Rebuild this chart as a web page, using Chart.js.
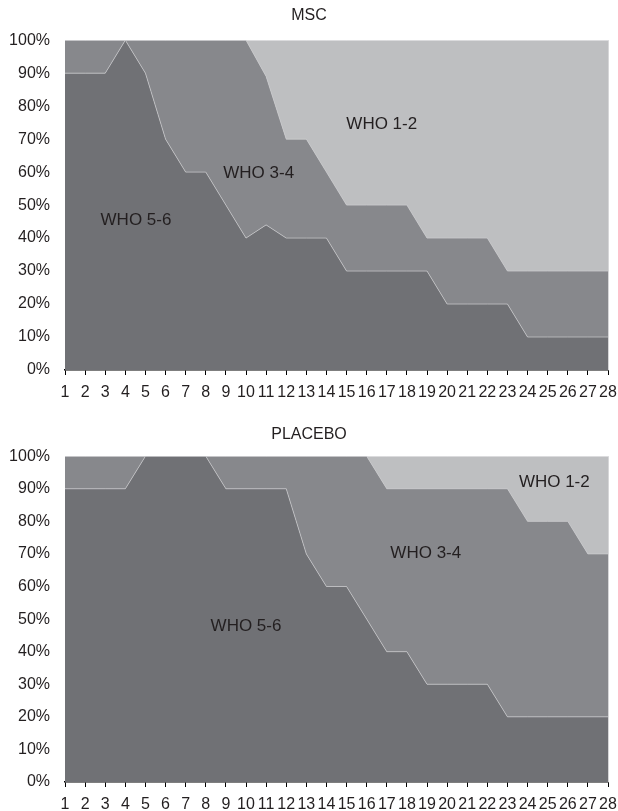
<!DOCTYPE html>
<html>
<head>
<meta charset="utf-8">
<script src="https://cdn.jsdelivr.net/npm/chart.js@4.4.1/dist/chart.umd.min.js"></script>
<style>
  body { margin: 0; background: #fff; }
  .grafico { position: relative; width: 618px; }
</style>
</head>
<body>
<div class="grafico" style="height:400px"><canvas id="graficoMsc"></canvas></div>
<div class="grafico" style="height:411px"><canvas id="graficoPlacebo"></canvas></div>
<script>
// dias de acompanhamento (eixo x)
const dias = ['1', '2', '3', '4', '5', '6', '7', '8', '9', '10', '11', '12', '13', '14',
  '15', '16', '17', '18', '19', '20', '21', '22', '23', '24', '25', '26', '27', '28'];

// MSC - % de pacientes em cada faixa WHO
const mscWho56 = [90, 90, 90, 100, 90, 70, 60, 60, 50, 40, 44, 40, 40, 40, 30, 30, 30, 30, 30, 20, 20, 20, 20, 10, 10, 10, 10, 10];
const mscWho34 = [10, 10, 10, 0, 10, 30, 40, 40, 50, 60, 45, 30, 30, 20, 20, 20, 20, 20, 10, 20, 20, 20, 10, 20, 20, 20, 20, 20];
const mscWho12 = [0, 0, 0, 0, 0, 0, 0, 0, 0, 0, 11, 30, 30, 40, 50, 50, 50, 50, 60, 60, 60, 60, 70, 70, 70, 70, 70, 70];

// PLACEBO
const placeboWho56 = [90, 90, 90, 90, 100, 100, 100, 100, 90, 90, 90, 90, 70, 60, 60, 50, 40, 40, 30, 30, 30, 30, 20, 20, 20, 20, 20, 20];
const placeboWho34 = [10, 10, 10, 10, 0, 0, 0, 0, 10, 10, 10, 10, 30, 40, 40, 50, 50, 50, 60, 60, 60, 60, 70, 60, 60, 60, 50, 50];
const placeboWho12 = [0, 0, 0, 0, 0, 0, 0, 0, 0, 0, 0, 0, 0, 0, 0, 0, 10, 10, 10, 10, 10, 10, 10, 20, 20, 20, 30, 30];

const nomesFaixas = ['WHO 5-6', 'WHO 3-4', 'WHO 1-2'];

const fonte = 'Liberation Sans, Arial, Helvetica, sans-serif';
const corTexto = '#231f20';
const coresFaixas = ['#707175', '#87888c', '#bebfc1'];

// rótulos escritos dentro das áreas (dia, %)
const rotulosMsc = [
  { texto: 'WHO 5-6', dia: 4.53, pct: 45.5 },
  { texto: 'WHO 3-4', dia: 10.63, pct: 59.6 },
  { texto: 'WHO 1-2', dia: 16.75, pct: 74.5 }
];
const rotulosPlacebo = [
  { texto: 'WHO 5-6', dia: 10.0, pct: 47.9 },
  { texto: 'WHO 3-4', dia: 18.94, pct: 70.1 },
  { texto: 'WHO 1-2', dia: 25.33, pct: 91.9 }
];

function pluginRotulos(rotulos) {
  return {
    id: 'rotulos',
    afterDatasetsDraw(chart) {
      const ctx = chart.ctx;
      const x = chart.scales.x;
      const y = chart.scales.y;
      const area = chart.chartArea;
      ctx.save();
      // borda clara do lado direito
      ctx.strokeStyle = '#d6d6d8';
      ctx.lineWidth = 1;
      ctx.beginPath();
      ctx.moveTo(area.right + 0.5, area.top);
      ctx.lineTo(area.right + 0.5, area.bottom);
      ctx.stroke();

      ctx.font = '17px ' + fonte;
      ctx.fillStyle = corTexto;
      ctx.textAlign = 'center';
      ctx.textBaseline = 'middle';
      rotulos.forEach(function (r) {
        ctx.fillText(r.texto, x.getPixelForValue(r.dia - 1), y.getPixelForValue(r.pct));
      });
      ctx.restore();
    }
  };
}

function areaWHO(id, titulo, faixas, rotulos, esp) {
  var ctx = document.getElementById(id).getContext('2d');
  var datasets = faixas.map(function (valores, i) {
    return {
      label: nomesFaixas[i],
      data: valores,
      backgroundColor: coresFaixas[i],
      fill: i === 0 ? 'origin' : '-1'
    };
  });
  return new Chart(ctx, {
    type: 'line',
    data: { labels: dias, datasets: datasets },
    options: {
      responsive: true,
      maintainAspectRatio: false,
      animation: false,
      elements: {
        point: { radius: 0 },
        line: { borderColor: 'rgba(205,205,208,0.7)', borderWidth: 1, tension: 0 }
      },
      layout: { padding: { left: 0, right: 0, top: 0, bottom: 0 } },
      plugins: {
        legend: { display: false },
        tooltip: { enabled: false },
        title: {
          display: true,
          text: titulo,
          color: corTexto,
          font: { family: fonte, size: 16, weight: 'normal' },
          padding: { top: esp.tituloCima, bottom: esp.tituloBaixo }
        }
      },
      scales: {
        x: {
          offset: false,
          grid: { display: true, drawOnChartArea: false, drawTicks: true, tickLength: 5, color: '#000', lineWidth: 1 },
          border: { display: true, color: '#000', width: 1.5 },
          ticks: { autoSkip: false, maxRotation: 0, padding: 8, color: corTexto, font: { family: fonte, size: 16 } },
          afterFit: function (escala) {
            escala.height = esp.alturaX;
            escala.paddingLeft = 0;
            escala.paddingRight = 10;
          }
        },
        y: {
          stacked: true,
          min: 0,
          max: 100,
          grid: { display: false, drawTicks: false },
          border: { display: false },
          ticks: {
            stepSize: 10,
            padding: 15,
            color: corTexto,
            font: { family: fonte, size: 16 },
            callback: function (v) { return v + '%'; }
          },
          afterFit: function (escala) { escala.width = 65; }
        }
      }
    },
    plugins: [pluginRotulos(rotulos)]
  });
}

areaWHO('graficoMsc', 'MSC', [mscWho56, mscWho34, mscWho12], rotulosMsc,
  { tituloCima: 6, tituloBaixo: 15, alturaX: 30 });
areaWHO('graficoPlacebo', 'PLACEBO', [placeboWho56, placeboWho34, placeboWho12], rotulosPlacebo,
  { tituloCima: 25, tituloBaixo: 12, alturaX: 29 });
</script>
</body>
</html>
